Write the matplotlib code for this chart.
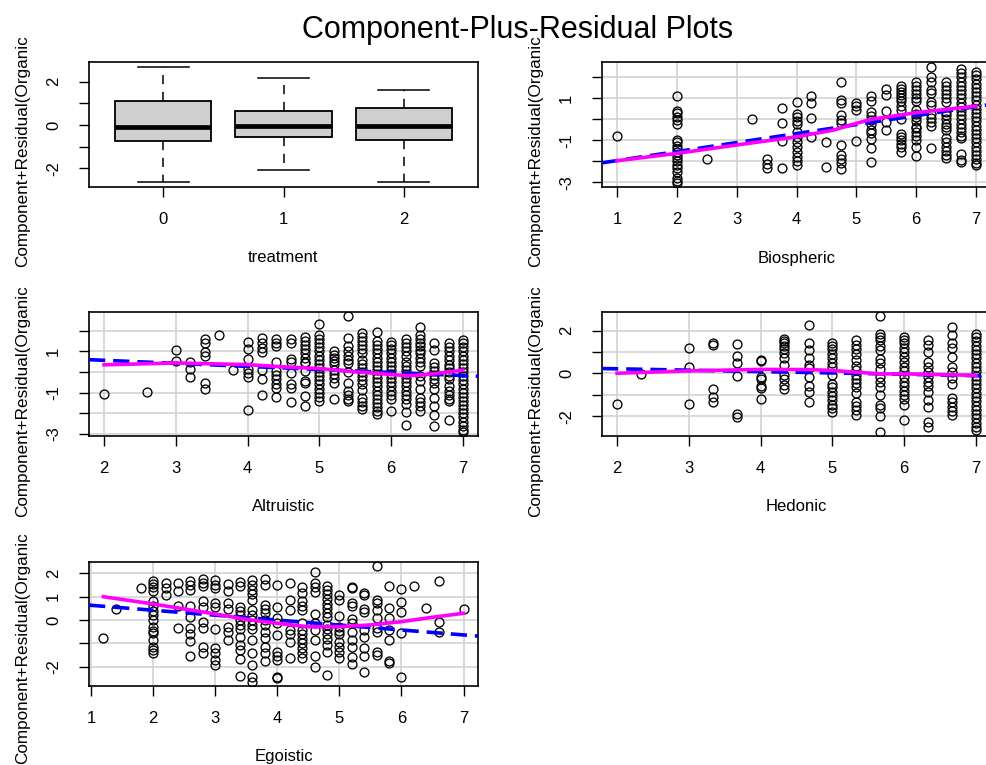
import matplotlib.pyplot as plt

plt.rcParams['font.family'] = ['Liberation Sans', 'DejaVu Sans']

# ---- treatment (boxplot stats)
treat_levels = [0, 1, 2]
treat_whislo = [-2.63, -2.09, -2.61]
treat_q1 = [-0.72, -0.57, -0.69]
treat_med = [-0.08, -0.03, -0.03]
treat_q3 = [1.11, 0.65, 0.80]
treat_whishi = [2.69, 2.18, 1.60]

# ---- Biospheric
bio_x = [1, 2, 2.5, 3.25, 3.5, 3.75, 4, 4.25, 4.5, 4.75, 5, 5.25, 5.5, 5.75,
         6, 6.25, 6.5, 6.75, 7]
bio_y = [
    [-0.79],
    [1.11, 0.40, 0.28, 0.12, -0.05, -0.2, -1.0, -1.1, -1.25, -1.4, -1.55, -1.7,
     -1.85, -2.0, -2.15, -2.3, -2.5, -2.8, -2.95, -3.05],
    [-1.89],
    [0.02],
    [-1.89, -2.14, -2.33],
    [0.56, -0.16, -1.03, -2.3],
    [0.81, 0.25, 0.1, -0.06, -0.22, -0.59, -0.83, -1.06, -1.3, -1.54, -1.78, -2.0, -2.17],
    [1.11, 0.76, 0.08, -0.83],
    [-1.06, -2.25],
    [1.79, 0.92, 0.79, 0.21, -0.03, -0.19, -1.22, -1.7, -1.89, -2.1, -2.38],
    [0.79, 0.63, 0.44, -1.03],
    [1.11, 0.87, 0.37, 0.16, -0.03, -0.24, -0.51, -0.67, -0.95, -1.38, -2.02],
    [1.44, 1.16, 0.4, -0.11, -0.51],
    [1.59, 1.45, 1.3, 1.15, 1.0, 0.85, 0.65, 0.44, 0.0, -0.71, -0.85, -1.0, -1.15, -1.3, -1.54],
    [1.79, 1.6, 1.4, 1.2, 1.0, 0.85, 0.44, 0.25, 0.1, -0.1, -0.35, -0.43, -0.6, -0.8,
     -0.98, -1.3, -1.75],
    [2.51, 2.0, 1.79, 1.4, 1.24, 0.84, 0.68, 0.25, 0.05, -0.11, -0.32, -1.38],
    [1.79, 1.6, 1.4, 1.2, 1.0, 0.84, 0.37, 0.2, 0.0, -0.2, -0.35, -0.51, -0.9, -1.1,
     -1.3, -1.5, -1.7, -1.86],
    [2.38, 2.2, 2.0, 1.8, 1.6, 1.4, 1.2, 1.0, 0.8, 0.6, 0.4, 0.2, 0.0, -0.2, -0.4,
     -0.6, -0.8, -0.9, -1.65, -1.94, -2.05],
    [2.27, 2.1, 1.9, 1.7, 1.5, 1.3, 1.1, 0.9, 0.7, 0.5, 0.3, 0.1, -0.1, -0.3, -0.5,
     -0.7, -0.9, -1.1, -1.3, -1.5, -1.7, -1.9, -2.1, -2.17],
]
bio_fit = [-2.39, 0.428]
bio_smooth_x = [1, 2, 3, 4, 4.62, 5, 5.25, 6, 7]
bio_smooth_y = [-1.97, -1.62, -1.22, -0.83, -0.51, -0.19, 0.0, 0.32, 0.63]

# ---- Altruistic
alt_x = [2, 2.6, 3, 3.2, 3.4, 3.6, 3.8, 4, 4.2, 4.4, 4.6, 4.8, 5, 5.2, 5.4, 5.6,
         5.8, 6, 6.2, 6.4, 6.6, 6.8, 7]
alt_y = [
    [-1.08],
    [-0.97],
    [1.08, 0.55],
    [0.47, 0.17, -0.23],
    [1.59, 1.4, 0.95, 0.79, -0.52, -0.84],
    [1.8],
    [0.09],
    [1.48, 1.13, 0.63, 0.15, -0.04, -0.23, -1.83],
    [1.64, 1.4, 1.16, 0.95, 0.09, -0.36, -1.13],
    [1.59, 1.4, 1.24, 0.47, 0.04, -0.16, -0.36, -0.56, -0.76, -1.21],
    [1.6, 1.4, 0.63, 0.47, -0.04, -0.6, -0.76, -1.45],
    [1.69, 1.5, 1.3, 1.1, 0.9, 0.7, 0.5, 0.44, 0.04, -0.44, -0.55, -1.16, -1.64],
    [2.31, 1.8, 1.6, 1.4, 1.2, 1.0, 0.8, 0.6, 0.4, 0.2, 0.0, -0.2, -0.4, -0.6, -0.8,
     -1.0, -1.2, -1.4],
    [1.0, 0.85, 0.7, 0.55, 0.4, 0.1, -0.1, -0.3, -0.55, -1.32],
    [2.71, 1.64, 1.24, 1.0, 0.8, 0.6, 0.44, 0.0, -0.52, -0.92, -1.1, -1.3, -1.4],
    [1.88, 1.7, 1.5, 1.3, 1.1, 0.9, 0.6, 0.4, 0.2, 0.0, -0.2, -0.4, -0.6, -0.85,
     -1.25, -1.45, -1.65, -1.8],
    [1.96, 1.51, 1.3, 1.1, 0.9, 0.7, 0.5, 0.3, 0.1, -0.1, -0.3, -0.5, -0.7, -0.9,
     -1.1, -1.3, -1.5, -1.7, -1.9, -2.05],
    [1.48, 1.3, 1.1, 0.9, 0.7, 0.5, 0.3, 0.1, -0.1, -0.3, -0.5, -0.7, -0.9, -1.1,
     -1.3, -1.91],
    [1.59, 1.4, 1.2, 1.0, 0.8, 0.5, 0.3, 0.1, -0.1, -0.3, -0.5, -0.7, -0.9, -1.1,
     -1.3, -1.55, -1.96, -2.55],
    [2.17, 1.8, 1.6, 1.4, 1.24, 1.08, 0.9, 0.7, 0.5, 0.28, -0.2, -0.45, -0.84,
     -1.24, -1.45, -1.65, -1.88],
    [1.4, 1.05, 0.44, 0.25, 0.05, -0.15, -0.35, -0.55, -0.84, -1.24, -1.64, -2.09, -2.6],
    [1.4, 1.2, 1.0, 0.8, 0.6, 0.36, 0.2, 0.0, -0.2, -0.36, -0.68, -0.9, -1.1, -1.3,
     -1.4, -2.31],
    [1.56, 1.4, 1.2, 1.0, 0.8, 0.6, 0.4, 0.2, 0.0, -0.2, -0.4, -0.6, -0.8, -1.0,
     -1.2, -1.4, -1.6, -1.8, -2.0, -2.2, -2.4, -2.6, -2.8, -2.92],
]
alt_fit = [0.865, -0.148]
alt_smooth_x = [2, 3, 4, 4.5, 5, 5.5, 6, 6.25, 6.5, 7]
alt_smooth_y = [0.35, 0.44, 0.36, 0.25, 0.17, 0.01, -0.12, -0.18, -0.12, 0.09]

# ---- Hedonic
hed_x = [2, 2.33, 3, 3.33, 3.67, 4, 4.33, 4.67, 5, 5.33, 5.67, 6, 6.33, 6.67, 7]
hed_y = [
    [-1.43],
    [-0.03],
    [1.19, 0.28, -1.43],
    [1.4, 1.35, -0.74, -1.12, -1.32],
    [1.36, 0.81, 0.47, -0.11, -1.89, -2.02],
    [0.65, 0.57, -0.16, -0.26, -0.59, -0.7, -1.19],
    [1.63, 1.5, 1.4, 1.3, 1.15, 0.96, 0.74, 0.39, -0.08, -0.28, -0.54, -0.74],
    [2.25, 1.43, 1.09, 0.74, 0.39, 0.26, -0.16, -0.59, -0.85, -1.32],
    [1.43, 1.3, 1.15, 0.93, 0.7, 0.5, 0.31, -0.08, -0.47, -0.65, -0.85, -1.05,
     -1.25, -1.45, -1.6, -1.78],
    [1.55, 1.35, 1.15, 0.93, 0.62, 0.34, 0.15, -0.05, -0.25, -0.45, -0.65, -0.93,
     -1.32, -1.5, -1.7, -1.94],
    [2.68, 1.86, 1.7, 1.55, 1.27, 1.09, 0.67, 0.5, 0.23, -0.16, -0.4, -0.62, -1.0,
     -1.47, -1.63, -1.98, -2.71],
    [1.71, 1.55, 1.4, 1.2, 1.0, 0.78, 0.54, 0.3, 0.1, -0.15, -0.39, -0.6, -0.8,
     -1.0, -1.2, -1.47, -2.17],
    [1.58, 1.32, 1.0, 0.54, 0.3, 0.05, -0.16, -0.39, -0.6, -0.85, -1.24, -1.55,
     -2.25, -2.51],
    [2.17, 1.78, 1.43, 1.21, 0.78, 0.28, 0.05, -0.2, -0.47, -1.16, -1.35, -1.55,
     -1.75, -1.94],
    [1.86, 1.7, 1.5, 1.3, 1.1, 0.9, 0.7, 0.5, 0.3, 0.1, -0.1, -0.3, -0.5, -0.7,
     -0.9, -1.1, -1.3, -1.5, -1.7, -1.9, -2.1, -2.3, -2.5, -2.64],
]
hed_fit = [0.345, -0.064]
hed_smooth_x = [2, 3, 4, 4.67, 5, 5.67, 6, 6.5, 7]
hed_smooth_y = [0.01, 0.12, 0.19, 0.18, 0.14, -0.02, -0.02, -0.05, -0.09]

# ---- Egoistic
ego_x = [1.2, 1.4, 1.8, 2, 2.2, 2.4, 2.6, 2.8, 3, 3.2, 3.4, 3.6, 3.8, 4, 4.2, 4.4,
         4.6, 4.8, 5, 5.2, 5.4, 5.6, 5.8, 6, 6.2, 6.4, 6.6, 7]
ego_y = [
    [-0.76],
    [0.46],
    [1.36],
    [1.69, 1.55, 1.4, 1.26, 0.81, 0.6, 0.4, 0.2, 0.0, -0.31, -0.45, -0.57, -0.86,
     -1.17, -1.3, -1.4],
    [1.57, 1.36, 1.07],
    [1.57, 1.24, 0.6, -0.33],
    [1.69, 1.5, 1.3, 0.6, 0.11, -0.36, -0.6, -0.9, -1.54],
    [1.74, 1.6, 1.46, 0.81, 0.57, -0.1, -0.33, -1.14, -1.43],
    [1.71, 1.5, 1.36, 0.71, 0.57, -0.39, -1.21, -1.43, -1.71, -1.93],
    [1.53, 1.24, 0.71, 0.46, -0.29, -0.5, -0.86],
    [1.64, 1.46, 0.57, 0.4, 0.2, 0.0, -0.2, -0.4, -0.71, -1.07, -1.29, -1.69, -2.4],
    [1.71, 1.5, 1.3, 1.1, 0.86, 0.43, 0.2, 0.0, -0.2, -0.4, -0.86, -1.43, -1.93,
     -2.43, -2.64],
    [1.74, 1.5, 0.64, 0.46, 0.29, 0.0, -0.2, -0.5, -0.79, -1.14, -1.43, -1.76],
    [1.5, 0.57, 0.07, -0.14, -0.64, -1.36, -1.55, -1.71, -2.43, -2.5],
    [1.57, 0.86, 0.43, -0.43, -0.6, -0.93, -1.61],
    [1.43, 1.17, 0.83, 0.6, 0.43, -0.14, -0.43, -0.6, -0.8, -1.0, -1.21, -1.4, -1.64],
    [2.07, 1.57, 1.4, 1.21, 0.24, -0.14, -0.43, -0.86, -1.53, -2.0],
    [1.46, 1.3, 1.1, 0.9, 0.7, 0.5, 0.3, 0.14, -0.21, -0.4, -0.6, -0.8, -1.07,
     -1.36, -2.36],
    [1.07, 0.86, 0.17, -0.29, -0.45, -0.6, -0.93, -1.14, -1.35, -1.64],
    [1.43, 1.36, 0.71, 0.6, 0.03, -0.14, -0.5, -0.86, -1.14, -1.57, -1.9],
    [1.14, 1.07, 0.47, 0.36, -0.43, -0.71, -1.21, -1.54, -2.21],
    [2.31, 0.86, 0.71, 0.43, 0.07, -0.36, -0.5, -1.36, -1.5],
    [1.46, 0.5, 0.07, -0.43, -0.86, -1.74, -1.83],
    [1.33, 0.79, 0.36, -0.54, -2.43],
    [1.46],
    [0.5],
    [1.69, -0.07, -0.5],
    [0.46],
]
ego_fit = [0.845, -0.212]
ego_smooth_x = [1.2, 2, 3, 3.5, 4, 4.5, 5, 5.5, 6, 6.5, 7]
ego_smooth_y = [1.0, 0.69, 0.26, 0.03, -0.14, -0.29, -0.29, -0.21, -0.07, 0.12, 0.29]

W, H = 986, 765
fig = plt.figure(figsize=(W / 100, H / 100), dpi=100)


def px_axes(left, top, right, bottom):
    return fig.add_axes([left / W, 1 - bottom / H, (right - left) / W, (bottom - top) / H])


def style(ax, xticks, xlabels, yticks, ylabels, xlabel, ylim, xlim):
    ax.set_xlim(*xlim)
    ax.set_ylim(*ylim)
    ax.set_xticks(xticks)
    ax.set_xticklabels(xlabels)
    ax.set_yticks(yticks)
    ax.set_yticklabels(ylabels, rotation=90, va='center')
    ax.tick_params(length=7.2, width=1.0, labelsize=12, color='black')
    ax.tick_params(axis='x', pad=10.5)
    ax.tick_params(axis='y', pad=13.0)
    for s in ax.spines.values():
        s.set_linewidth(1.2)
    ax.set_xlabel(xlabel, fontsize=12, va='center')
    ax.xaxis.set_label_coords(0.5, -71 / 125)


def ylabel_for(x, bottom):
    # the label is cut by the plot region in the reference: only this part shows
    fig.text(x / W, 1 - bottom / H, "Component+Residual(Organic",
             rotation=90, ha='center', va='bottom', fontsize=12.3)


def cr_panel(ax, xs, ys, fit, sx, sy):
    px, py = [], []
    for x, col in zip(xs, ys):
        px += [x] * len(col)
        py += col
    ax.grid(True, color='#d0d0d0', linewidth=1.1, zorder=0)
    ax.set_axisbelow(True)
    ax.plot(px, py, 'o', mfc='none', mec='black', ms=6.4, mew=0.95, zorder=2)
    ax.axline((0, fit[0]), slope=fit[1], color='#0000ff', lw=2.6,
              dashes=(4.5, 2.2), zorder=3)
    ax.plot(sx, sy, color='#ff00ff', lw=2.6, zorder=4)


# treatment panel
ax1 = px_axes(89, 62, 478, 187)
stats = [dict(whislo=a, q1=b, med=c, q3=d, whishi=e)
         for a, b, c, d, e in zip(treat_whislo, treat_q1, treat_med, treat_q3, treat_whishi)]
ax1.bxp(stats, positions=treat_levels, widths=0.8, capwidths=0.42, showfliers=False,
        patch_artist=True,
        boxprops=dict(facecolor='#cfcfcf', edgecolor='black', linewidth=1.3),
        medianprops=dict(color='black', linewidth=3.4),
        whiskerprops=dict(color='black', linewidth=1.1, dashes=(6, 5)),
        capprops=dict(color='black', linewidth=1.1))
style(ax1, [0, 1, 2], ['0', '1', '2'], [-2, -1, 0, 1, 2], ['-2', '', '0', '', '2'],
      'treatment', (-2.86, 2.91), (-0.62, 2.62))

ax2 = px_axes(602, 62, 991, 187)
cr_panel(ax2, bio_x, bio_y, bio_fit, bio_smooth_x, bio_smooth_y)
style(ax2, [1, 2, 3, 4, 5, 6, 7], ['1', '2', '3', '4', '5', '6', '7'],
      [-3, -2, -1, 0, 1, 2], ['-3', '', '-1', '', '1', ''],
      'Biospheric', (-3.22, 2.73), (0.75, 7.25))

ax3 = px_axes(89, 312, 478, 436)
cr_panel(ax3, alt_x, alt_y, alt_fit, alt_smooth_x, alt_smooth_y)
style(ax3, [2, 3, 4, 5, 6, 7], ['2', '3', '4', '5', '6', '7'],
      [-3, -2, -1, 0, 1, 2], ['-3', '', '-1', '', '1', ''],
      'Altruistic', (-3.1, 2.91), (1.79, 7.21))

ax4 = px_axes(602, 312, 991, 436)
cr_panel(ax4, hed_x, hed_y, hed_fit, hed_smooth_x, hed_smooth_y)
style(ax4, [2, 3, 4, 5, 6, 7], ['2', '3', '4', '5', '6', '7'],
      [-2, -1, 0, 1, 2], ['-2', '', '0', '', '2'],
      'Hedonic', (-2.92, 2.87), (1.79, 7.21))

ax5 = px_axes(89, 562, 478, 686)
cr_panel(ax5, ego_x, ego_y, ego_fit, ego_smooth_x, ego_smooth_y)
style(ax5, [1, 2, 3, 4, 5, 6, 7], ['1', '2', '3', '4', '5', '6', '7'],
      [-2, -1, 0, 1, 2], ['-2', '', '0', '1', '2'],
      'Egoistic', (-2.83, 2.49), (0.968, 7.232))

ylabel_for(23, 267)
ylabel_for(536, 267)
ylabel_for(23, 517)
ylabel_for(536, 517)
ylabel_for(23, 764)

fig.text(517.5 / W, 1 - 38 / H, "Component-Plus-Residual Plots", fontsize=22,
         ha='center', va='baseline')

fig.savefig("out.png", dpi=100)
